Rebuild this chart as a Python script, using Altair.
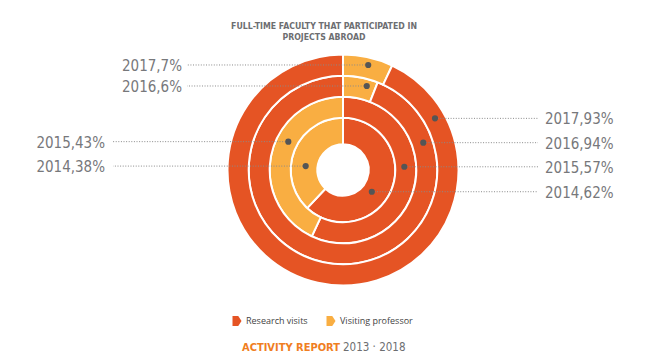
import math
import altair as alt
import pandas as pd

# ---------------- data ----------------
years = [2014, 2015, 2016, 2017]
research = [62, 57, 94, 93]
visiting = [38, 43, 6, 7]
series = ["Research visits", "Visiting professor"]
title_lines = ["FULL-TIME FACULTY THAT PARTICIPATED IN", "PROJECTS ABROAD"]
footer_brand = "ACTIVITY REPORT"
footer_years = "2013 · 2018"

# ---------------- layout / style ----------------
W, H = 634, 344
CX, CY = 335, 162                       # ring centre (plot coords)
ring_edges = [25.7, 52.3, 73.3, 94.3, 115.5]
visiting_first = {2014: False, 2015: False, 2016: True, 2017: True}
colors = ["#E55424", "#F9AE42"]
# marker (angle clockwise from 12 o'clock in degrees, radius px)
marker_pos = {
    ("Visiting professor", 2017): (13.5, 108),
    ("Visiting professor", 2016): (15.8, 87.3),
    ("Visiting professor", 2015): (297.4, 61.6),
    ("Visiting professor", 2014): (276.0, 37.5),
    ("Research visits", 2017): (60.7, 105.5),
    ("Research visits", 2016): (71.2, 84.8),
    ("Research visits", 2015): (87.0, 61.4),
    ("Research visits", 2014): (127.0, 36.1),
}
# label anchors: (line end x, text x, align)
label_anchor = {
    ("Visiting professor", 2017): (179, 174, "right"),
    ("Visiting professor", 2016): (179, 174, "right"),
    ("Visiting professor", 2015): (105, 97, "right"),
    ("Visiting professor", 2014): (105, 97, "right"),
}
RIGHT_ANCHOR = (530, 537, "left")

LABEL_FONT = "'Liberation Sans Narrow', 'DejaVu Sans Condensed', 'Roboto Condensed', 'Liberation Sans', sans-serif"

# ---------------- build tables ----------------
arc_rows, ann_rows = [], []
for i, yr in enumerate(years):
    vals = {"Research visits": research[i], "Visiting professor": visiting[i]}
    order = series[::-1] if visiting_first[yr] else series
    start = 0
    for s in order:
        end = start + vals[s]
        arc_rows.append({"year": yr, "series": s, "start": start, "end": end,
                         "r_in": ring_edges[i], "r_out": ring_edges[i + 1]})
        start = end
    for s in series:
        ang, r = marker_pos[(s, yr)]
        px = CX + r * math.sin(math.radians(ang))
        py = CY - r * math.cos(math.radians(ang))
        lx, tx, al = label_anchor.get((s, yr), RIGHT_ANCHOR)
        ann_rows.append({"series": s, "year": yr, "px": px, "py": py, "lx": lx,
                         "tx": tx, "align": al, "label": f"{yr},{vals[s]}%"})

arcs = pd.DataFrame(arc_rows)
ann = pd.DataFrame(ann_rows)

xs = alt.Scale(domain=[0, W], range=[0, W], nice=False, zero=False)
ys = alt.Scale(domain=[0, H], range=[0, H], nice=False, zero=False)

arc_layer = alt.Chart(arcs).mark_arc(stroke="white", strokeWidth=2).encode(
    theta=alt.Theta("start:Q", stack=None, scale=alt.Scale(domain=[0, 100], range=[0, 2 * math.pi])),
    theta2="end:Q",
    radius=alt.Radius("r_out:Q", scale=alt.Scale(type="linear", domain=[0, 120], range=[0, 120], zero=True)),
    radius2="r_in:Q",
    x=alt.value(CX),
    y=alt.value(CY),
    color=alt.Color(
        "series:N",
        scale=alt.Scale(domain=series, range=colors),
        legend=alt.Legend(
            title=None, orient="none", legendX=224, legendY=308, direction="horizontal",
            symbolType="M-0.9,-1L0.25,-1L0.9,0L0.25,1L-0.9,1Z", symbolSize=100,
            symbolStrokeWidth=0, labelFont="'Open Sans', sans-serif", labelFontSize=9,
            labelColor="#444", labelOffset=4, columnPadding=18,
        ),
    ),
)

rules = alt.Chart(ann).mark_rule(color="#8a8a8a", strokeWidth=1, strokeDash=[1, 1.6]).encode(
    x=alt.X("px:Q", scale=xs, axis=None),
    x2="lx:Q",
    y=alt.Y("py:Q", scale=ys, axis=None),
)

dots = alt.Chart(ann).mark_circle(size=38, color="#555555", opacity=1).encode(
    x=alt.X("px:Q", scale=xs, axis=None),
    y=alt.Y("py:Q", scale=ys, axis=None),
)

labels_left = alt.Chart(ann).transform_filter("datum.align == 'right'").mark_text(
    align="right", baseline="middle", font=LABEL_FONT, fontSize=15, color="#77787b", dy=1
).encode(
    x=alt.X("tx:Q", scale=xs, axis=None),
    y=alt.Y("py:Q", scale=ys, axis=None),
    text="label:N",
)
labels_right = alt.Chart(ann).transform_filter("datum.align == 'left'").mark_text(
    align="left", baseline="middle", font=LABEL_FONT, fontSize=15, color="#77787b", dy=1
).encode(
    x=alt.X("tx:Q", scale=xs, axis=None),
    y=alt.Y("py:Q", scale=ys, axis=None),
    text="label:N",
)

title = alt.Chart(pd.DataFrame({"t": [title_lines]})).mark_text(
    align="center", baseline="alphabetic", font=LABEL_FONT, fontSize=8.7, fontWeight="bold",
    color="#6d6e71", lineHeight=11,
).encode(x=alt.value(316), y=alt.value(20.5), text="t")

footer_a = alt.Chart(pd.DataFrame({"t": [footer_brand]})).mark_text(
    align="right", baseline="alphabetic", font=LABEL_FONT, fontSize=11, fontWeight="bold",
    color="#F07E22",
).encode(x=alt.value(332), y=alt.value(342.5), text="t:N")

footer_b = alt.Chart(pd.DataFrame({"t": [footer_years]})).mark_text(
    align="left", baseline="alphabetic", font=LABEL_FONT, fontSize=11.5, color="#6d6e71",
).encode(x=alt.value(335), y=alt.value(342.5), text="t:N")

chart = alt.layer(
    arc_layer, rules, dots, labels_left, labels_right, title, footer_a, footer_b
).resolve_scale(x="shared", y="shared").properties(
    width=W, height=H, padding=0, autosize=alt.AutoSizeParams(type="none")
).configure_view(stroke=None)

chart.save("out.html", embed_options={"renderer": "svg", "actions": False})
